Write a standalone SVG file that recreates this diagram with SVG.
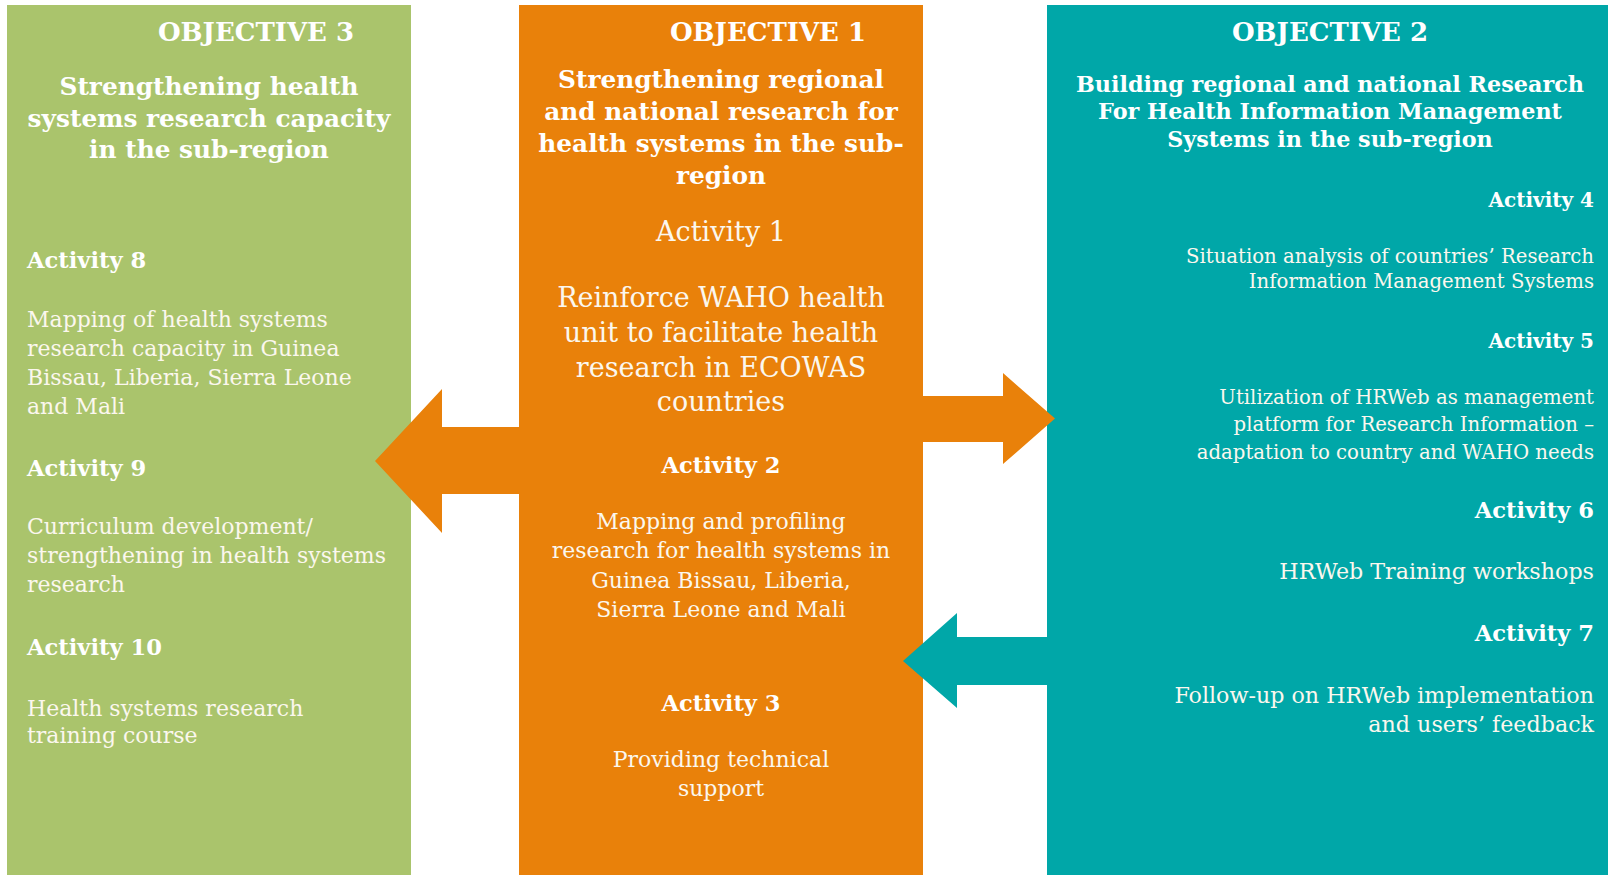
<svg xmlns="http://www.w3.org/2000/svg" width="1608" height="875" viewBox="0 0 1608 875">
<style>
.t{font-family:"DejaVu Serif","Liberation Serif",serif;fill:#FFFFFF}
.b{font-weight:bold}
.r{fill:#FBF7EE}
.h{font-size:26px}
.ti{font-size:24.8px}
.a{font-size:22.6px}
.p{font-size:22px}
.s{font-size:19.7px}
.c{text-anchor:middle}
.e{text-anchor:end}
</style>
<rect width="1608" height="875" fill="#FFFFFF"/>
<g id="objective3">
<rect x="7" y="5" width="404" height="870" fill="#AAC46C"/>
<text class="t b h c" x="256" y="41">OBJECTIVE 3</text>
<text class="t b ti c"><tspan x="209" y="95">Strengthening health</tspan><tspan x="209" y="127">systems research capacity</tspan><tspan x="209" y="158">in the sub-region</tspan></text>
<text class="t b a" x="27" y="268">Activity 8</text>
<text class="t r p"><tspan x="27" y="327">Mapping of health systems</tspan><tspan x="27" y="356">research capacity in Guinea</tspan><tspan x="27" y="385">Bissau, Liberia, Sierra Leone</tspan><tspan x="27" y="414">and Mali</tspan></text>
<text class="t b a" x="27" y="476">Activity 9</text>
<text class="t r p"><tspan x="27" y="534">Curriculum development/</tspan><tspan x="27" y="563">strengthening in health systems</tspan><tspan x="27" y="592">research</tspan></text>
<text class="t b a" x="27" y="655">Activity 10</text>
<text class="t r p"><tspan x="27" y="716">Health systems research</tspan><tspan x="27" y="743">training course</tspan></text>
</g>
<g id="objective1">
<rect x="519" y="5" width="404" height="870" fill="#E9810A"/>
<text class="t b h c" x="768" y="41">OBJECTIVE 1</text>
<text class="t b ti c"><tspan x="721" y="88">Strengthening regional</tspan><tspan x="721" y="120">and national research for</tspan><tspan x="721" y="152">health systems in the sub-</tspan><tspan x="721" y="184">region</tspan></text>
<text class="t r c" style="font-size:27px" x="721" y="241">Activity 1</text>
<text class="t r c" style="font-size:27px"><tspan x="721" y="307">Reinforce WAHO health</tspan><tspan x="721" y="342">unit to facilitate health</tspan><tspan x="721" y="377">research in ECOWAS</tspan><tspan x="721" y="411">countries</tspan></text>
<text class="t b a c" x="721" y="473">Activity 2</text>
<text class="t r p c"><tspan x="721" y="529">Mapping and profiling</tspan><tspan x="721" y="558">research for health systems in</tspan><tspan x="721" y="588">Guinea Bissau, Liberia,</tspan><tspan x="721" y="617">Sierra Leone and Mali</tspan></text>
<text class="t b a c" x="721" y="711">Activity 3</text>
<text class="t r p c"><tspan x="721" y="767">Providing technical</tspan><tspan x="721" y="796">support</tspan></text>
</g>
<g id="objective2">
<rect x="1047" y="5" width="561" height="870" fill="#00A7A8"/>
<text class="t b h c" x="1330" y="41">OBJECTIVE 2</text>
<text class="t b c" style="font-size:22.3px"><tspan x="1330" y="92">Building regional and national Research</tspan><tspan x="1330" y="119">For Health Information Management</tspan><tspan x="1330" y="147">Systems in the sub-region</tspan></text>
<text class="t b e" style="font-size:20px" x="1594" y="207">Activity 4</text>
<text class="t r s e"><tspan x="1594" y="263">Situation analysis of countries’ Research</tspan><tspan x="1594" y="288">Information Management Systems</tspan></text>
<text class="t b e" style="font-size:20px" x="1594" y="348">Activity 5</text>
<text class="t r s e"><tspan x="1594" y="404">Utilization of HRWeb as management</tspan><tspan x="1594" y="431">platform for Research Information –</tspan><tspan x="1594" y="459">adaptation to country and WAHO needs</tspan></text>
<text class="t b a e" x="1594" y="518">Activity 6</text>
<text class="t r e" style="font-size:22.2px"><tspan x="1594" y="579">HRWeb Training workshops</tspan></text>
<text class="t b a e" x="1594" y="641">Activity 7</text>
<text class="t r e" style="font-size:22.2px"><tspan x="1594" y="703">Follow-up on HRWeb implementation</tspan><tspan x="1594" y="732">and users’ feedback</tspan></text>
</g>
<g id="connectors">
<polygon points="519,427 442,427 442,389 375,461 442,533 442,494 519,494" fill="#E9810A"/>
<polygon points="923,396 1003,396 1003,373 1055,418.5 1003,464 1003,442 923,442" fill="#E9810A"/>
<polygon points="1047,637 957,637 957,613 903,661 957,708 957,685 1047,685" fill="#00A7A8"/>
</g>
</svg>
